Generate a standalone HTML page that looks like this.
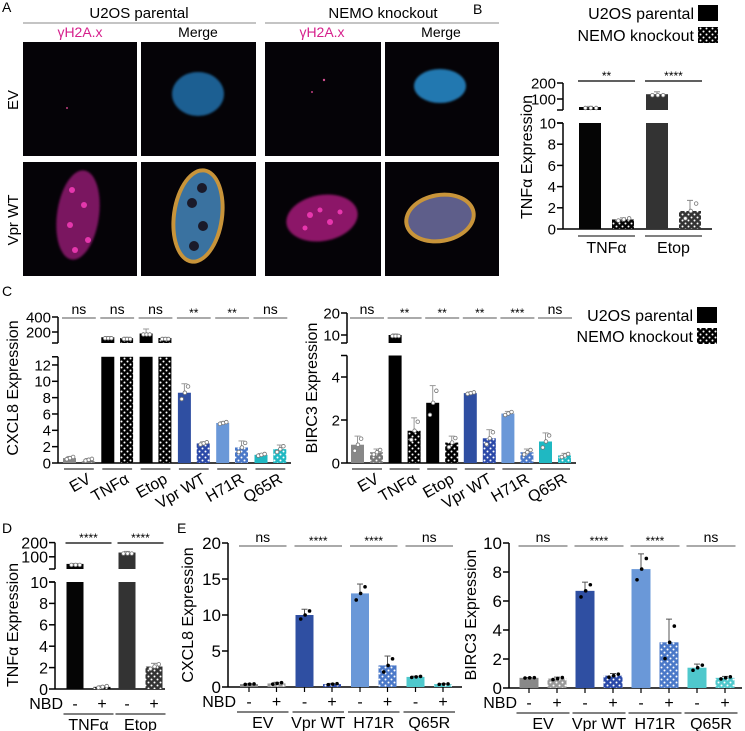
<!DOCTYPE html>
<html><head><meta charset="utf-8"><style>
html,body{margin:0;padding:0;background:#fff;}
svg{display:block;font-family:"Liberation Sans",Arial,sans-serif;}
</style></head><body>
<svg id="fig" width="745" height="731" viewBox="0 0 745 731" xmlns="http://www.w3.org/2000/svg">
<defs>
<filter id="blur2"><feGaussianBlur stdDeviation="2"/></filter>
<filter id="blur1"><feGaussianBlur stdDeviation="1"/></filter>
</defs>
<g id="panelA">
<text x="2" y="12" font-size="14">A</text>
<text x="139" y="18" font-size="15" text-anchor="middle">U2OS parental</text>
<line x1="23" y1="23" x2="256" y2="23" stroke="#888" stroke-width="1"/>
<text x="383" y="18" font-size="15" text-anchor="middle">NEMO knockout</text>
<line x1="265" y1="23" x2="499" y2="23" stroke="#888" stroke-width="1"/>
<text x="80" y="37" font-size="14" fill="#d6208c" text-anchor="middle">γH2A.x</text>
<text x="198" y="37" font-size="14" text-anchor="middle">Merge</text>
<text x="322" y="37" font-size="14" fill="#d6208c" text-anchor="middle">γH2A.x</text>
<text x="441" y="37" font-size="14" text-anchor="middle">Merge</text>
<text transform="translate(18,100) rotate(-90)" font-size="15" text-anchor="middle">EV</text>
<text transform="translate(18,220) rotate(-90)" font-size="15" text-anchor="middle">Vpr WT</text>
<rect x="23" y="42" width="114" height="114" fill="#050307"/>
<rect x="141" y="42" width="115" height="114" fill="#050307"/>
<rect x="265" y="42" width="116" height="114" fill="#050307"/>
<rect x="385" y="42" width="114" height="114" fill="#050307"/>
<rect x="23" y="162" width="114" height="114" fill="#050307"/>
<rect x="141" y="162" width="115" height="114" fill="#050307"/>
<rect x="265" y="162" width="116" height="114" fill="#050307"/>
<rect x="385" y="162" width="114" height="114" fill="#050307"/>
<ellipse cx="198" cy="94" rx="26" ry="22" fill="#1a5f92" filter="url(#blur1)"/>
<ellipse cx="440" cy="86" rx="26" ry="17" fill="#2478b0" filter="url(#blur1)"/>
<circle cx="67" cy="108" r="1" fill="#c04080"/><circle cx="324" cy="80" r="1.2" fill="#d05090"/><circle cx="312" cy="92" r="1" fill="#c04080"/>
<ellipse cx="78" cy="215" rx="21" ry="45" fill="#7a1660" transform="rotate(8 78 215)" filter="url(#blur1)"/>
<ellipse cx="198" cy="216" rx="26" ry="48" fill="#c8943a" transform="rotate(8 198 216)"/>
<ellipse cx="198" cy="216" rx="22" ry="44" fill="#3a72a0" transform="rotate(8 198 216)"/>
<ellipse cx="322" cy="218" rx="36" ry="23" fill="#8c1868" transform="rotate(-10 322 218)" filter="url(#blur1)"/>
<ellipse cx="440" cy="218" rx="36" ry="25" fill="#c8943a" transform="rotate(-10 440 218)"/>
<ellipse cx="440" cy="218" rx="32" ry="21" fill="#5e5e8a" transform="rotate(-10 440 218)"/>
<g fill="#ff40c0" opacity="0.8"><circle cx="72" cy="190" r="3"/><circle cx="84" cy="205" r="3"/><circle cx="70" cy="225" r="3"/><circle cx="88" cy="240" r="3"/><circle cx="75" cy="250" r="3"/><circle cx="310" cy="215" r="3"/><circle cx="330" cy="222" r="3"/><circle cx="320" cy="210" r="2.5"/><circle cx="340" cy="212" r="2.5"/><circle cx="305" cy="228" r="2.5"/></g>
<g fill="#1a1a2a"><circle cx="202" cy="188" r="5"/><circle cx="192" cy="203" r="5"/><circle cx="203" cy="226" r="5"/><circle cx="194" cy="246" r="5"/></g>
</g>
<g id="charts"></g>
</svg>
<script>
// ===== DATA =====
// Panel B
const bCats = ['TNFα', 'Etop'];
const bParental = [50, 130];
const bParentalErr = [4, 15];
const bNemo = [0.9, 1.7];
const bNemoErr = [0.15, 1.0];
const bSig = ['**', '****'];
const bTicksLower = [0, 2, 4, 6, 8, 10];
const bTicksUpper = [100, 200];
// Panel C CXCL8
const cCats = ['EV', 'TNFα', 'Etop', 'Vpr WT', 'H71R', 'Q65R'];
const cxParental = [0.6, 130, 180, 8.6, 4.9, 1.0];
const cxParentalErr = [0.2, 10, 60, 1.1, 0.15, 0.15];
const cxNemo = [0.4, 120, 120, 2.4, 1.9, 1.7];
const cxNemoErr = [0.15, 10, 8, 0.2, 0.8, 0.5];
const cxSig = ['ns', 'ns', 'ns', '**', '**', 'ns'];
const cxTicksLower = [0, 2, 4, 6, 8, 10, 12];
const cxTicksUpper = [200, 400];
// Panel C BIRC3
const biParental = [0.85, 10, 2.8, 3.25, 2.3, 1.0];
const biParentalErr = [0.4, 0.5, 0.8, 0.05, 0.1, 0.4];
const biNemo = [0.5, 1.5, 0.95, 1.15, 0.5, 0.35];
const biNemoErr = [0.15, 0.6, 0.3, 0.4, 0.15, 0.1];
const biSig = ['ns', '**', '**', '**', '***', 'ns'];
const biTicksLower = [0, 2, 4];
const biTicksUpper = [10, 20];
// Panel D
const dCats = ['TNFα', 'Etop'];
const dMinus = [50, 130];
const dMinusErr = [3, 8];
const dPlus = [0.2, 2.1];
const dPlusErr = [0.1, 0.3];
const dSig = ['****', '****'];
const dTicksLower = [0, 2, 4, 6, 8, 10];
const dTicksUpper = [100, 200];
// Panel E CXCL8
const eCats = ['EV', 'Vpr WT', 'H71R', 'Q65R'];
const exMinus = [0.4, 10, 13, 1.4];
const exMinusErr = [0.05, 0.8, 1.3, 0.1];
const exPlus = [0.5, 0.4, 3.0, 0.4];
const exPlusErr = [0.15, 0.1, 1.3, 0.05];
const exSig = ['ns', '****', '****', 'ns'];
const exTicks = [0, 5, 10, 15, 20];
// Panel E BIRC3
const ebMinus = [0.7, 6.7, 8.2, 1.4];
const ebMinusErr = [0.02, 0.6, 1.05, 0.25];
const ebPlus = [0.65, 0.85, 3.15, 0.7];
const ebPlusErr = [0.1, 0.15, 1.6, 0.1];
const ebSig = ['ns', '****', '****', 'ns'];
const ebTicks = [0, 2, 4, 6, 8, 10];

// ===== DRAWING =====
const NS = 'http://www.w3.org/2000/svg';
const root = document.getElementById('charts');
const defs = document.querySelector('defs');
function mk(tag, attrs, parent) {
  const e = document.createElementNS(NS, tag);
  for (const k in attrs) e.setAttribute(k, attrs[k]);
  (parent || root).appendChild(e);
  return e;
}
function txt(x, y, s, size, anchor, parent, extra) {
  const t = mk('text', Object.assign({x: x, y: y, 'font-size': size, 'text-anchor': anchor || 'middle'}, extra || {}), parent);
  t.textContent = s;
  return t;
}
const patterns = {};
function pat(color) {
  if (patterns[color]) return patterns[color];
  const id = 'p' + Object.keys(patterns).length;
  const p = mk('pattern', {id: id, width: 6, height: 6, patternUnits: 'userSpaceOnUse'}, defs);
  mk('rect', {width: 6, height: 6, fill: color}, p);
  mk('circle', {cx: 1.5, cy: 1.5, r: 1, fill: '#fff'}, p);
  mk('circle', {cx: 4.5, cy: 4.5, r: 1, fill: '#fff'}, p);
  patterns[color] = 'url(#' + id + ')';
  return patterns[color];
}

function drawChart(cfg) {
  const fs = cfg.fs || 15;
  const g = mk('g', {});
  
  
  const ly = v => cfg.base - v * cfg.ls;
  const uy = v => cfg.u0 - v * cfg.us;
  const lowTopY = ly(cfg.lowMax);
  const ax = mk('line', {x1: cfg.ax, y1: cfg.base, x2: cfg.ax, y2: lowTopY, stroke: '#000', 'stroke-width': 1.5}, g);
  
  
  const bl = mk('line', {x1: cfg.ax, y1: cfg.base, x2: cfg.axEnd, y2: cfg.base, stroke: '#000', 'stroke-width': 1.5}, g);
  
  
  cfg.ticksLower.forEach(v => {
    mk('line', {x1: cfg.ax - 6, y1: ly(v), x2: cfg.ax, y2: ly(v), stroke: '#000', 'stroke-width': 1.5}, g);
    const t = txt(cfg.ax - 7, ly(v) + fs * 0.36, String(v), fs, 'end', g);
    
    
  });
  if (cfg.ticksUpper) {
    mk('line', {x1: cfg.ax - 6, y1: lowTopY, x2: cfg.ax, y2: lowTopY, stroke: '#000', 'stroke-width': 1.5}, g);
    const topV = cfg.ticksUpper[cfg.ticksUpper.length - 1];
    mk('line', {x1: cfg.ax, y1: cfg.brk, x2: cfg.ax, y2: uy(topV), stroke: '#000', 'stroke-width': 1.5}, g);
    mk('line', {x1: cfg.ax - 6, y1: cfg.brk, x2: cfg.ax, y2: cfg.brk, stroke: '#000', 'stroke-width': 1.5}, g);
    cfg.ticksUpper.forEach(v => {
      mk('line', {x1: cfg.ax - 6, y1: uy(v), x2: cfg.ax, y2: uy(v), stroke: '#000', 'stroke-width': 1.5}, g);
      const t = txt(cfg.ax - 7, uy(v) + fs * 0.36, String(v), fs, 'end', g);
      
      
    });
  }
  const yt = txt(0, 0, cfg.title, cfg.tfs || 15, 'middle', g, {transform: 'translate(' + cfg.titleX + ',' + cfg.titleY + ') rotate(-90)'});
  
  

  cfg.cats.forEach((cat, i) => {
    const gc = cfg.g0 + i * cfg.gs;
    const series = [
      {v: cfg.s1[i], e: cfg.e1[i], x: gc, fill: cfg.colors1[i]},
      {v: cfg.s2[i], e: cfg.e2[i], x: gc + cfg.ps, fill: pat(cfg.colors2[i])}
    ];
    series.forEach((s, k) => {
      const x0 = s.x - cfg.bw / 2;
      let topY;
      if (cfg.ticksUpper && s.v > cfg.lowMax) {
        const r1 = mk('rect', {x: x0, y: lowTopY, width: cfg.bw, height: cfg.base - lowTopY, fill: s.fill}, g);
        
        
        topY = uy(s.v);
        const r2 = mk('rect', {x: x0, y: topY, width: cfg.bw, height: Math.max(0, cfg.brk - topY), fill: s.fill}, g);
        
        
        const eT = uy(s.v + s.e);
        mk('line', {x1: s.x, y1: topY, x2: s.x, y2: eT, stroke: cfg.errC, 'stroke-width': 1}, g);
        mk('line', {x1: s.x - 3, y1: eT, x2: s.x + 3, y2: eT, stroke: cfg.errC, 'stroke-width': 1}, g);
        [-0.6, 0.1, 0.8].forEach(f => {
          mk('circle', {cx: s.x + f * cfg.bw * 0.35, cy: topY + 1, r: 1.8, fill: '#fff', stroke: '#777', 'stroke-width': 0.8}, g);
        });
      } else {
        topY = ly(s.v);
        const r = mk('rect', {x: x0, y: topY, width: cfg.bw, height: cfg.base - topY, fill: s.fill}, g);
        
        
        const eT = ly(Math.min(s.v + s.e, cfg.lowMax));
        mk('line', {x1: s.x, y1: topY, x2: s.x, y2: eT, stroke: cfg.errC, 'stroke-width': 1}, g);
        mk('line', {x1: s.x - 3, y1: eT, x2: s.x + 3, y2: eT, stroke: cfg.errC, 'stroke-width': 1}, g);
        [-0.6, 0.1, 0.8].forEach((f, j) => {
          const dv = s.v + (j - 1) * s.e * 0.7;
          const dy = ly(Math.max(0, dv));
          const xx = s.x + f * cfg.bw * 0.35;
          if (cfg.dotStyle === 'open') mk('circle', {cx: xx, cy: dy, r: 1.8, fill: '#fff', stroke: '#777', 'stroke-width': 0.8}, g);
          else mk('circle', {cx: xx, cy: dy, r: 1.8, fill: '#000'}, g);
        });
      }
    });
    const sx1 = gc - cfg.bw / 2 - 1, sx2 = gc + cfg.ps + cfg.bw / 2 + 1;
    mk('line', {x1: sx1, y1: cfg.sigY, x2: sx2, y2: cfg.sigY, stroke: cfg.sigLineC, 'stroke-width': 1.2}, g);
    const st = cfg.sig[i];
    const sTxt = txt((sx1 + sx2) / 2, cfg.sigY - (st === 'ns' ? 4 : 1), st, st === 'ns' ? 14 : 12, 'middle', g);
    
    
    if (cfg.xmode === 'rot') {
      mk('line', {x1: sx1 + 2, y1: cfg.base + 6, x2: sx2 - 2, y2: cfg.base + 6, stroke: '#000', 'stroke-width': 1}, g);
      const xl = txt(0, 0, cat, 16, 'end', g, {transform: 'translate(' + (gc + cfg.ps / 2 + 13) + ',' + (cfg.base + 19) + ') rotate(-30)'});
      
      
    } else if (cfg.xmode === 'plain') {
      mk('line', {x1: sx1, y1: cfg.base + 7, x2: sx2, y2: cfg.base + 7, stroke: '#000', 'stroke-width': 1}, g);
      const xl = txt(gc + cfg.ps / 2, cfg.base + 24, cat, 16, 'middle', g);
      
      
    } else {
      if (cfg.xticks) {
        mk('line', {x1: gc, y1: cfg.base, x2: gc, y2: cfg.base + 5, stroke: '#000', 'stroke-width': 1.2}, g);
        mk('line', {x1: gc + cfg.ps, y1: cfg.base, x2: gc + cfg.ps, y2: cfg.base + 5, stroke: '#000', 'stroke-width': 1.2}, g);
      }
      txt(gc, cfg.base + 20, '-', 16, 'middle', g);
      txt(gc + cfg.ps, cfg.base + 20, '+', 16, 'middle', g);
      mk('line', {x1: sx1 - 2, y1: cfg.base + 25, x2: sx2 + 2, y2: cfg.base + 25, stroke: '#000', 'stroke-width': 1}, g);
      const xl = txt(gc + cfg.ps / 2, cfg.base + 41, cat, 16, 'middle', g);
      
      
    }
  });
  if (cfg.xmode === 'nbd') {
    const n = txt(cfg.nbdX, cfg.base + 20, 'NBD', 16, 'end', g);
    
    
  }
}

// Panel B
drawChart({name: 'chart-b-tnfa', cats: bCats, s1: bParental, e1: bParentalErr, s2: bNemo, e2: bNemoErr,
  colors1: ['#050505', '#333333'], colors2: ['#050505', '#333333'], sig: bSig,
  ax: 563, axEnd: 712, base: 229, ls: 10.6, lowMax: 10, ticksLower: bTicksLower,
  ticksUpper: bTicksUpper, u0: 115, us: 0.16, brk: 110, fs: 15, tfs: 16,
  g0: 590, gs: 67, ps: 33, bw: 22, sigY: 81, sigLineC: '#000', errC: '#888', dotStyle: 'open',
  xmode: 'plain', title: 'TNFα Expression', titleX: 532, titleY: 157});
// Panel C CXCL8
const cCol = ['#888888', '#000000', '#000000', '#2f4fa2', '#6a98d8', '#1fb8c2'];
const cCol2 = ['#777777', '#000000', '#000000', '#2a48a8', '#4a78c8', '#1fb8c2'];
drawChart({name: 'chart-c-cxcl8', cats: cCats, s1: cxParental, e1: cxParentalErr, s2: cxNemo, e2: cxNemoErr,
  colors1: cCol, colors2: cCol2, sig: cxSig,
  ax: 58, axEnd: 291, base: 463, ls: 8.17, lowMax: 13, ticksLower: cxTicksLower,
  ticksUpper: cxTicksUpper, u0: 347, us: 0.075, brk: 343, fs: 15, tfs: 16,
  g0: 69.5, gs: 38.3, ps: 18.8, bw: 13, sigY: 318, sigLineC: '#777', errC: '#999', dotStyle: 'open',
  xmode: 'rot', title: 'CXCL8 Expression', titleX: 18, titleY: 388});
// Panel C BIRC3
drawChart({name: 'chart-c-birc3', cats: cCats, s1: biParental, e1: biParentalErr, s2: biNemo, e2: biNemoErr,
  colors1: cCol, colors2: cCol2, sig: biSig,
  ax: 347, axEnd: 576, base: 463, ls: 21.5, lowMax: 5, ticksLower: biTicksLower,
  ticksUpper: biTicksUpper, u0: 357, us: 2.2, brk: 343, fs: 15, tfs: 16,
  g0: 357.5, gs: 37.6, ps: 19, bw: 13, sigY: 318, sigLineC: '#777', errC: '#999', dotStyle: 'open',
  xmode: 'rot', title: 'BIRC3 Expression', titleX: 317, titleY: 388});
// Legends
[[5, 'U2OS parental', false, 'legend-b-parental'], [27, 'NEMO knockout', true, 'legend-b-nemo'],
 [307, 'U2OS parental', false, 'legend-c-parental'], [328, 'NEMO knockout', true, 'legend-c-nemo']].forEach((l, i) => {
  const right = i < 2 ? 694 : 693;
  const g = mk('g', {});
  
  
  txt(right, l[0] + 14, l[1], 16, 'end', g);
  mk('rect', {x: right + 4, y: l[0], width: 20, height: 16, fill: l[2] ? pat('#000') : '#000'}, g);
});
// Panel labels
[['B', 473, 14], ['C', 2, 296], ['D', 2, 533], ['E', 177, 533]].forEach(p => {
  const t = txt(p[1], p[2], p[0], 14, 'start');
  
  
});
// Panel D
drawChart({name: 'chart-d-tnfa', cats: dCats, s1: dMinus, e1: dMinusErr, s2: dPlus, e2: dPlusErr,
  colors1: ['#050505', '#333333'], colors2: ['#050505', '#333333'], sig: dSig,
  ax: 55, axEnd: 165, base: 689, ls: 10.7, lowMax: 10, ticksLower: dTicksLower,
  ticksUpper: dTicksUpper, u0: 571, us: 0.142, brk: 569, fs: 16, tfs: 16,
  g0: 75, gs: 52, ps: 27, bw: 17, sigY: 543, sigLineC: '#000', errC: '#888', dotStyle: 'open',
  xmode: 'nbd', nbdX: 63, title: 'TNFα Expression', titleX: 18, titleY: 625});
// Panel E CXCL8
const eCol = ['#888888', '#2f4fa2', '#6a98d8', '#4fc8cc'];
const eCol2 = ['#999999', '#2a48a8', '#4a78c8', '#4fc8cc'];
drawChart({name: 'chart-e-cxcl8', cats: eCats, s1: exMinus, e1: exMinusErr, s2: exPlus, e2: exPlusErr,
  colors1: eCol, colors2: eCol2, sig: exSig,
  ax: 228, axEnd: 462, base: 687, ls: 7.2, lowMax: 20, ticksLower: exTicks, fs: 17, tfs: 16,
  g0: 249, gs: 55.5, ps: 27.5, bw: 18, sigY: 546, sigLineC: '#777', errC: '#555', dotStyle: 'fill',
  xmode: 'nbd', nbdX: 236, xticks: true, title: 'CXCL8 Expression', titleX: 193, titleY: 615});
// Panel E BIRC3
drawChart({name: 'chart-e-birc3', cats: eCats, s1: ebMinus, e1: ebMinusErr, s2: ebPlus, e2: ebPlusErr,
  colors1: eCol, colors2: eCol2, sig: ebSig,
  ax: 509, axEnd: 742, base: 688, ls: 14.5, lowMax: 10, ticksLower: ebTicks, fs: 17, tfs: 16,
  g0: 529, gs: 56, ps: 28, bw: 19, sigY: 546, sigLineC: '#777', errC: '#555', dotStyle: 'fill',
  xmode: 'nbd', nbdX: 517, xticks: true, title: 'BIRC3 Expression', titleX: 476, titleY: 615});
</script>
</body></html>
